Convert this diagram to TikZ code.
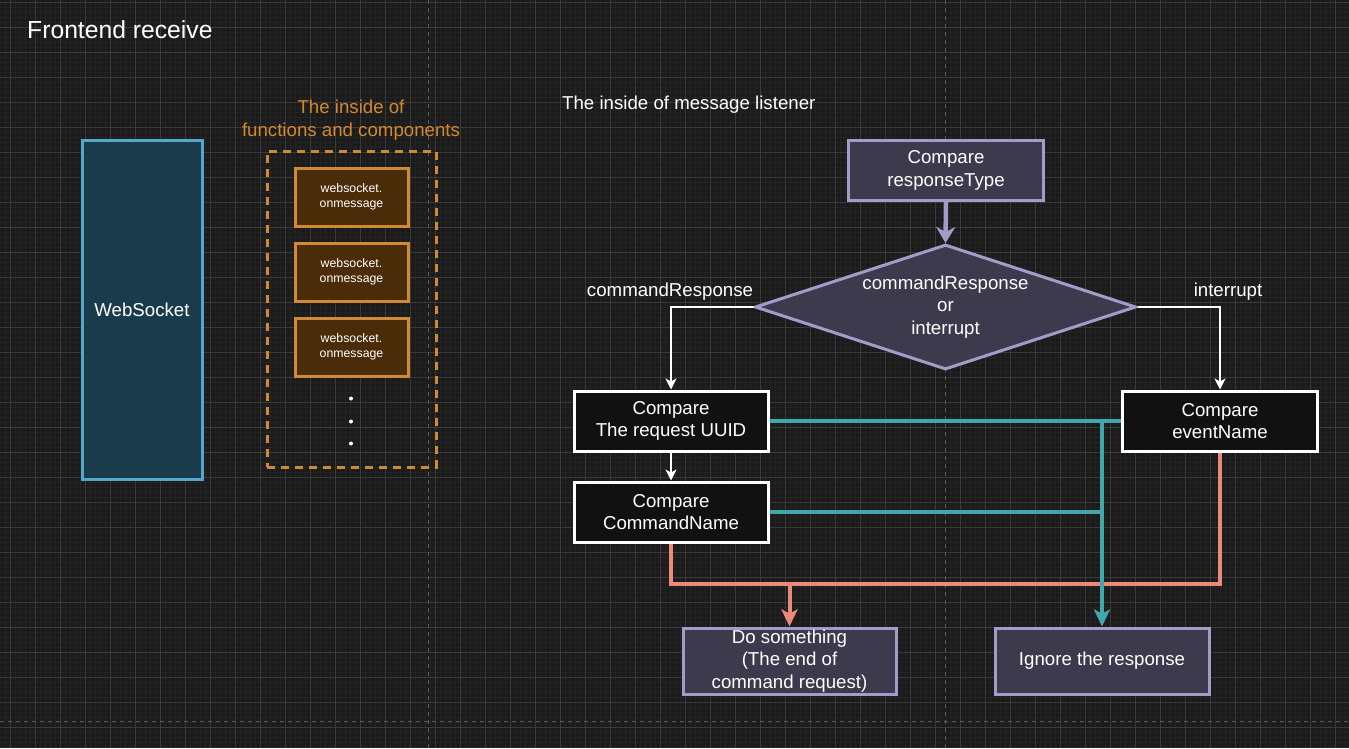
\documentclass[tikz,border=0pt]{standalone}
\usepackage{fontspec}
\setmainfont{Liberation Sans}
\usetikzlibrary{shapes.geometric,arrows.meta}
\definecolor{bgc}{HTML}{1B1B1B}
\definecolor{minorc}{HTML}{232323}
\definecolor{majorc}{HTML}{3A3A3A}
\definecolor{pagec}{HTML}{5A5A5A}
\definecolor{wsfill}{HTML}{1A3B4B}
\definecolor{wsline}{HTML}{52A7CF}
\definecolor{orline}{HTML}{D08A34}
\definecolor{orfill}{HTML}{4A2C09}
\definecolor{orlabel}{HTML}{D4882F}
\definecolor{pufill}{HTML}{3D3A4E}
\definecolor{puline}{HTML}{A49CC8}
\definecolor{tealc}{HTML}{40A8AC}
\definecolor{salmonc}{HTML}{EA8A7B}
\definecolor{boxblack}{HTML}{111111}
\begin{document}
\begin{tikzpicture}[x=1pt,y=-1pt,
  txt/.style={text=white,font=\fontsize{18.67}{22.5}\selectfont,align=center,inner sep=0pt},
  wsbox/.style={txt,draw=wsline,fill=wsfill,line width=3pt,minimum width=120pt,minimum height=339pt},
  grpbox/.style={draw=orline,line width=3pt,dash pattern=on 8pt off 6pt,minimum width=169pt,minimum height=316pt,inner sep=0pt},
  orbox/.style={draw=orline,fill=orfill,line width=3pt,minimum width=113pt,minimum height=58pt,text=white,font=\fontsize{12.3}{15}\selectfont,align=center,inner sep=0pt},
  pubox/.style={txt,draw=puline,fill=pufill,line width=3pt,minimum height=60pt},
  blkbox/.style={txt,draw=white,fill=boxblack,line width=3pt,minimum width=194pt,minimum height=60pt},
  dotmark/.style={circle,fill=white,inner sep=0pt,minimum size=4pt},
  warrow/.style={draw=white,line width=2.2pt,-{Stealth[length=11pt,width=11pt,inset=3pt]}},
  parrow/.style={draw=puline,line width=4.5pt,-{Stealth[length=16pt,width=19pt,inset=5pt]}},
  tline/.style={draw=tealc,line width=4pt},
  sline/.style={draw=salmonc,line width=4pt},
]
\useasboundingbox (0,0) rectangle (1349,748);
\fill[bgc] (0,0) rectangle (1349,748);
% minor grid
\foreach \x in {5,10,...,1345} \draw[minorc,line width=0.7pt] (\x,0) -- (\x,748);
\foreach \y in {2,7,...,747} \draw[minorc,line width=0.7pt] (0,\y) -- (1349,\y);
% major grid
\foreach \x in {10,35,...,1345} \draw[majorc,line width=1pt] (\x,0) -- (\x,748);
\foreach \y in {2,27,...,747} \draw[majorc,line width=1pt] (0,\y) -- (1349,\y);
% page breaks
\draw[pagec,line width=1pt,dash pattern=on 4pt off 4pt] (428,0) -- (428,748);
\draw[pagec,line width=1pt,dash pattern=on 4pt off 4pt] (945,0) -- (945,748);
\draw[pagec,line width=1pt,dash pattern=on 4pt off 4pt] (0,721) -- (1349,721);

% title
\node[txt,anchor=west,font=\fontsize{24.7}{28}\selectfont] (title) at (27,30) {Frontend receive};

% left part
\node[wsbox] (ws) at (142,309.5) {WebSocket};
\node[txt,text=orlabel] (olab) at (351,120) {The inside of\\functions and components};
\node[grpbox] (grp) at (351.5,309) {};
\node[orbox] (ob1) at (351.5,197) {websocket.\\onmessage};
\node[orbox] (ob2) at (351.5,272) {websocket.\\onmessage};
\node[orbox] (ob3) at (351.5,347) {websocket.\\onmessage};
\node[dotmark] (d1) at (351,398.5) {};
\node[dotmark] (d2) at (351,421.5) {};
\node[dotmark] (d3) at (351,443.5) {};

% listener
\node[txt,anchor=west] (llab) at (562,104.5) {The inside of message listener};
\node[pubox,minimum width=195pt] (resp) at (946,170.5) {Compare\\responseType};
\node[txt,diamond,draw=puline,fill=pufill,line width=3pt,minimum width=381pt,minimum height=125pt,aspect=3.05] (dia) at (945.5,307) {commandResponse\\or\\interrupt};
\node[blkbox] (uuid) at (671,421) {Compare\\The request UUID};
\node[blkbox] (cmd) at (671,512) {Compare\\CommandName};
\node[blkbox,minimum width=195pt] (evt) at (1220,421) {Compare\\eventName};
\node[pubox,minimum width=213pt,minimum height=66pt] (do) at (789.5,661) {Do something\\(The end of\\command request)};
\node[pubox,minimum width=214pt,minimum height=66pt] (ign) at (1102,661) {Ignore the response};
\node[txt] (lcr) at (670,291.5) {commandResponse};
\node[txt] (lint) at (1228,291.5) {interrupt};
\coordinate (sj) at (1000,584);

% connectors
\draw[parrow] (resp.south) -- (dia.north);
\draw[warrow] (dia.west) -| (uuid.north);
\draw[warrow] (dia.east) -| (evt.north);
\draw[warrow] (uuid.south) -- (cmd.north);
\draw[sline] (cmd.south) |- (sj) -| (evt.south);
\draw[sline,-{Stealth[length=17pt,width=16pt,inset=4pt]}] (do.north |- sj) -- (do.north);
\draw[tline] (uuid.east) -- (evt.west);
\draw[tline] (cmd.east) -- (ign.north |- cmd.east);
\draw[tline,-{Stealth[length=17pt,width=16pt,inset=4pt]}] (ign.north |- uuid.east) -- (ign.north);
\end{tikzpicture}
\end{document}
